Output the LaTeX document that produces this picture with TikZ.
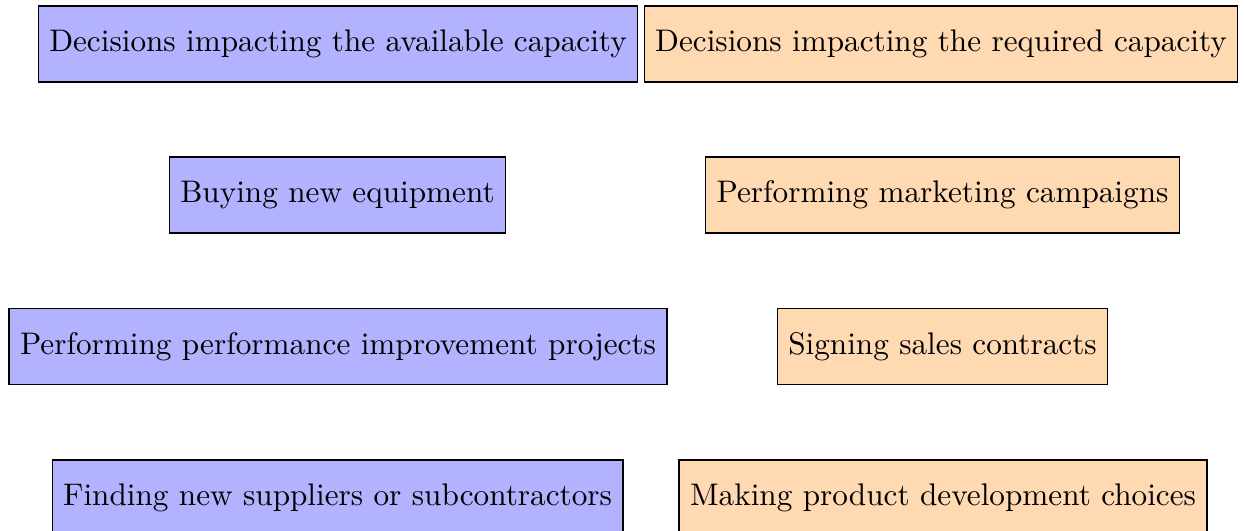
\documentclass[tikz,border=0pt]{standalone}
\begin{document}
\begin{tikzpicture}[x=0.3203pt,y=-0.3203pt,
  boxbase/.style={draw=black, rectangle, minimum height=24.34pt, inner xsep=3.52pt, inner ysep=0pt, anchor=center},
  availbox/.style={boxbase, fill=blue!30},
  reqbox/.style={boxbase, fill=orange!30}]
\useasboundingbox (0,0) rectangle (1244,531);
\node[availbox] (a0) at (338,44) {Decisions impacting the available capacity};
\node[reqbox] (r0) at (941,44) {Decisions impacting the required capacity};
\node[availbox] (a1) at (337.5,195) {Buying new equipment};
\node[reqbox] (r1) at (942.5,195) {Performing marketing campaigns};
\node[availbox] (a2) at (338,346.5) {Performing performance improvement projects};
\node[reqbox] (r2) at (942.5,346.5) {Signing sales contracts};
\node[availbox] (a3) at (337.5,498) {Finding new suppliers or subcontractors};
\node[reqbox] (r3) at (943,498) {Making product development choices};
\end{tikzpicture}
\end{document}
